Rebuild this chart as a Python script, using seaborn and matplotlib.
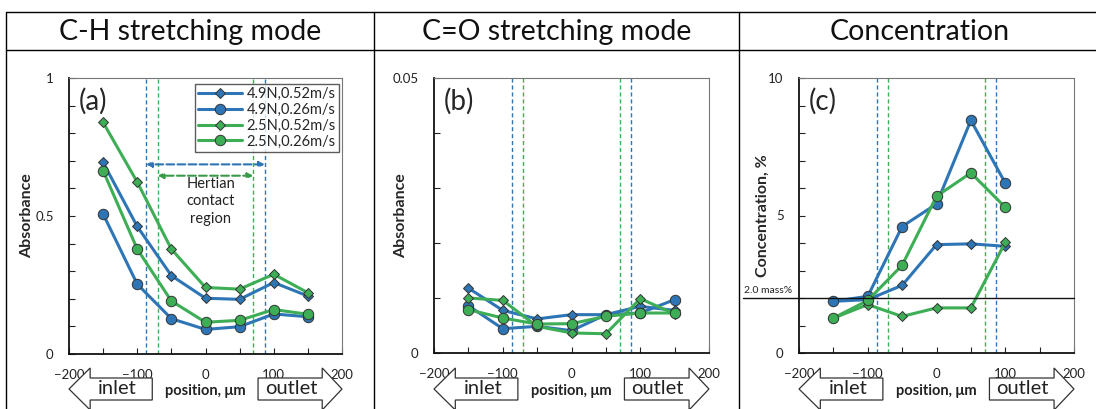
import numpy as np
import pandas as pd
import matplotlib
matplotlib.use('Agg')
import matplotlib.pyplot as plt
import matplotlib.transforms as mtransforms
from matplotlib.patches import Polygon
from matplotlib.lines import Line2D
import seaborn as sns

sns.set_theme(style='white')
plt.rcParams['font.family'] = ['Lato', 'DejaVu Sans']

# data
positions = [-150, -100, -50, 0, 50, 100, 150]
series_names = ['4.9N,0.52m/s', '4.9N,0.26m/s', '2.5N,0.52m/s', '2.5N,0.26m/s']

ch_49_052 = [0.694, 0.462, 0.284, 0.202, 0.198, 0.259, 0.210]
ch_49_026 = [0.507, 0.253, 0.128, 0.089, 0.099, 0.145, 0.135]
ch_25_052 = [0.839, 0.623, 0.380, 0.241, 0.235, 0.289, 0.222]
ch_25_026 = [0.664, 0.380, 0.192, 0.115, 0.122, 0.161, 0.144]

co_49_052 = [0.0118, 0.00775, 0.0062, 0.00697, 0.00697, 0.00848, 0.00775]
co_49_026 = [0.0086, 0.00442, 0.00485, 0.00406, 0.00697, 0.00727, 0.0097]
co_25_052 = [0.0100, 0.00957, 0.00485, 0.00364, 0.0035, 0.00988, 0.0071]
co_25_026 = [0.00788, 0.00636, 0.00527, 0.00533, 0.00667, 0.00727, 0.00727]

conc_positions = [-150, -100, -50, 0, 50, 100]
conc_49_052 = [1.88, 1.94, 2.46, 3.94, 3.97, 3.88]
conc_49_026 = [1.88, 2.06, 4.60, 5.42, 8.46, 6.18]
conc_25_052 = [1.27, 1.76, 1.33, 1.64, 1.64, 4.02]
conc_25_026 = [1.27, 1.91, 3.19, 5.70, 6.55, 5.30]

blue_edge = 87     # Hertzian contact half width, 4.9N
green_edge = 70    # Hertzian contact half width, 2.5N
base_conc = 2.0

headers = ['C-H stretching mode', 'C=O stretching mode', 'Concentration']

blue = '#2E75B6'
green = '#3DAE55'
colors = [blue, blue, green, green]
markers = ['D', 'o', 'D', 'o']
msizes = [5.5, 7.5, 5.5, 7.5]

W, H = 1096, 409
fig = plt.figure(figsize=(W / 100, H / 100), dpi=100)


def px_axes(x0, y0, x1, y1):
    return fig.add_axes([x0 / W, 1 - y1 / H, (x1 - x0) / W, (y1 - y0) / H])


ax_a = px_axes(69, 78, 342, 354)
ax_b = px_axes(434, 78, 709, 353)
ax_c = px_axes(799, 78, 1074, 353)

panels = [
    (ax_a, positions, [ch_49_052, ch_49_026, ch_25_052, ch_25_026], 1.0, 0.1, [0, 0.5, 1], ['0', '0.5', '1'], 'Absorbance', '(a)', 34),
    (ax_b, positions, [co_49_052, co_49_026, co_25_052, co_25_026], 0.05, 0.01, [0, 0.05], ['0', '0.05'], 'Absorbance', '(b)', 408),
    (ax_c, conc_positions, [conc_49_052, conc_49_026, conc_25_052, conc_25_026], 10, 1, [0, 5, 10], ['0', '5', '10'], 'Concentration, %', '(c)', 770),
]

for ax, xs, ys_list, ymax, ystep, yticks, ylabels, ylab, tag, ylab_x in panels:
    for name, ys, c, m, ms in zip(series_names, ys_list, colors, markers, msizes):
        sns.lineplot(x=xs, y=ys, ax=ax, color=c, marker=m, markersize=ms,
                     markeredgecolor='#333333', markeredgewidth=0.7, linewidth=2.2,
                     label=name, zorder=3)
    for e, c in [(blue_edge, blue), (green_edge, green)]:
        ax.axvline(-e, color=c, ls=(0, (3, 2)), lw=1.0, zorder=2)
        ax.axvline(e, color=c, ls=(0, (3, 2)), lw=1.0, zorder=2)
    ax.set_xlim(-200, 200)
    ax.set_ylim(0, ymax)
    ax.set_xticks([-200, -100, 0, 100, 200])
    ax.set_xticks(np.arange(-150, 200, 100), minor=True)
    ax.set_yticks(yticks)
    ax.set_yticklabels(ylabels)
    ax.set_yticks(np.arange(0, ymax + ystep / 2, ystep), minor=True)
    ax.tick_params(axis='both', which='both', direction='in', length=4, width=0.8,
                   color='#222222', labelsize=9.5, labelcolor='#222222')
    ax.tick_params(axis='y', which='both', left=True, pad=11)
    ax.tick_params(axis='x', which='both', bottom=True, pad=11)
    for s in ['left', 'bottom']:
        ax.spines[s].set_color('#111111')
        ax.spines[s].set_linewidth(1.3)
    for s in ['top', 'right']:
        ax.spines[s].set_color('#777777')
        ax.spines[s].set_linewidth(0.8)
    ax.set_ylabel(ylab, fontsize=11.5, fontweight='bold')
    ax_left_px = ax.get_position().x0 * W
    ax.yaxis.set_label_coords((ylab_x - ax_left_px) / (ax.get_position().width * W), 0.5)
    ax.set_xlabel('')
    ax.text(0.035, 0.965, tag, transform=ax.transAxes, fontsize=20, va='top', ha='left')
    if ax is ax_a:
        leg = ax.legend(loc='upper right', bbox_to_anchor=(0.99, 0.98), fontsize=10.5,
                        frameon=True, fancybox=False, edgecolor='#333333',
                        handlelength=3.0, borderpad=0.25, labelspacing=0.12,
                        handletextpad=0.3, borderaxespad=0)
        leg.get_frame().set_linewidth(1.0)
    else:
        ax.get_legend().remove()

    # inlet / outlet block arrows below the axis
    tr = mtransforms.blended_transform_factory(ax.transData, fig.transFigure)

    def fy(p):
        return 1 - p / H

    inlet = Polygon([(-200, fy(389)), (-169, fy(368)), (-169, fy(378)), (-78, fy(378)),
                     (-78, fy(400)), (-169, fy(400)), (-169, fy(410)), (-200, fy(389))],
                    closed=True, transform=tr, facecolor='white', edgecolor='#333333',
                    lw=0.9, clip_on=False, zorder=5)
    outlet = Polygon([(200, fy(389)), (171, fy(368)), (171, fy(378)), (77, fy(378)),
                      (77, fy(400)), (171, fy(400)), (171, fy(410)), (200, fy(389))],
                     closed=True, transform=tr, facecolor='white', edgecolor='#333333',
                     lw=0.9, clip_on=False, zorder=5)
    fig.add_artist(inlet)
    fig.add_artist(outlet)
    fig.text(0, fy(389), 'inlet', transform=tr, fontsize=14.5, ha='center', va='center',
             color='#222222', zorder=6).set_x(-129)
    fig.text(0, fy(389), 'outlet', transform=tr, fontsize=14.5, ha='center', va='center',
             color='#222222', zorder=6).set_x(125)
    fig.text(0, fy(391), 'position, \u03bcm', transform=tr, fontsize=10.5, fontweight='bold',
             ha='center', va='center', color='#222222', zorder=6)

# Hertzian contact annotation in (a)
ax_a.annotate('', xy=(-blue_edge, 0.687), xytext=(blue_edge, 0.687),
              arrowprops=dict(arrowstyle='<|-|>', color=blue, lw=1.5, ls='--',
                              shrinkA=0, shrinkB=0, mutation_scale=8))
ax_a.annotate('', xy=(-green_edge, 0.646), xytext=(green_edge, 0.646),
              arrowprops=dict(arrowstyle='<|-|>', color='#3A9A4A', lw=1.5, ls='--',
                              shrinkA=0, shrinkB=0, mutation_scale=8))
ax_a.text(8, 0.553, 'Hertian\ncontact\nregion', fontsize=10.5, ha='center', va='center',
          linespacing=1.3, color='#222222')

# 2.0 mass% baseline in (c), drawn past the left spine
trc = mtransforms.blended_transform_factory(ax_c.transAxes, ax_c.transData)
ax_c.plot([-0.205, 1], [base_conc, base_conc], transform=trc, color='#111111', lw=1.0,
          clip_on=False, zorder=4)
ax_c.text(-0.2, base_conc + 0.12, '2.0 mass%', transform=trc, fontsize=7.5, ha='left',
          va='bottom', color='#222222')

# table frame and headers
for x in [6, 374, 739]:
    fig.add_artist(Line2D([x / W, x / W], [0, 1 - 12 / H], color='black', lw=1.0))
for y in [12, 50]:
    fig.add_artist(Line2D([6 / W, 1], [1 - y / H, 1 - y / H], color='black', lw=1.0))
for cx, t in zip([190, 557, 920], headers):
    fig.text(cx / W, 1 - 32 / H, t, fontsize=20.5, ha='center', va='center', color='#111111')

fig.savefig('out.png', dpi=100)
